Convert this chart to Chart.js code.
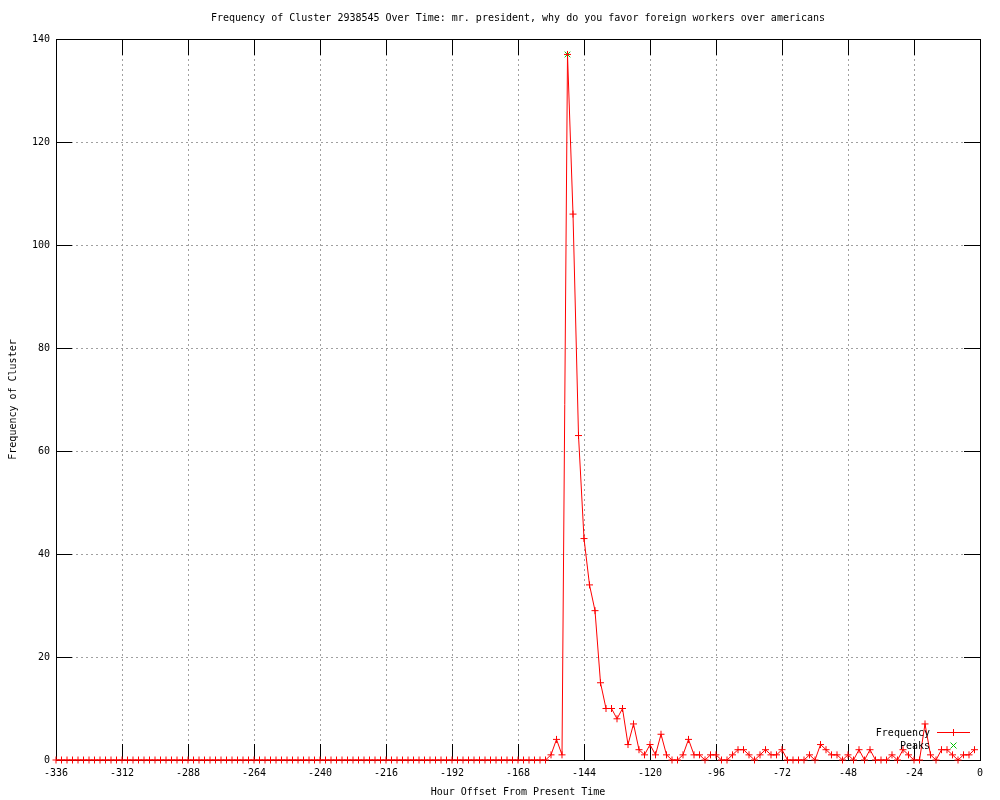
<!DOCTYPE html>
<html>
<head>
<meta charset="utf-8">
<title>Frequency of Cluster 2938545</title>
<script src="https://cdn.jsdelivr.net/npm/chart.js@4/dist/chart.umd.min.js"></script>
<style>
  html, body { margin: 0; padding: 0; background: #fff; }
  #wrap { width: 1000px; height: 800px; }
</style>
</head>
<body>
<div id="wrap"><canvas id="freqChart" width="1000" height="800"></canvas></div>
<script>
// hour offsets, one sample every 2 hours
var hours = [
  -336, -334, -332, -330, -328, -326, -324, -322, -320, -318, -316, -314,
  -312, -310, -308, -306, -304, -302, -300, -298, -296, -294, -292, -290,
  -288, -286, -284, -282, -280, -278, -276, -274, -272, -270, -268, -266,
  -264, -262, -260, -258, -256, -254, -252, -250, -248, -246, -244, -242,
  -240, -238, -236, -234, -232, -230, -228, -226, -224, -222, -220, -218,
  -216, -214, -212, -210, -208, -206, -204, -202, -200, -198, -196, -194,
  -192, -190, -188, -186, -184, -182, -180, -178, -176, -174, -172, -170,
  -168, -166, -164, -162, -160, -158, -156, -154, -152, -150, -148, -146,
  -144, -142, -140, -138, -136, -134, -132, -130, -128, -126, -124, -122,
  -120, -118, -116, -114, -112, -110, -108, -106, -104, -102, -100, -98,
  -96, -94, -92, -90, -88, -86, -84, -82, -80, -78, -76, -74,
  -72, -70, -68, -66, -64, -62, -60, -58, -56, -54, -52, -50,
  -48, -46, -44, -42, -40, -38, -36, -34, -32, -30, -28, -26,
  -24, -22, -20, -18, -16, -14, -12, -10, -8, -6, -4, -2
];
var frequency = [
  0, 0, 0, 0, 0, 0, 0, 0, 0, 0, 0, 0,
  0, 0, 0, 0, 0, 0, 0, 0, 0, 0, 0, 0,
  0, 0, 0, 0, 0, 0, 0, 0, 0, 0, 0, 0,
  0, 0, 0, 0, 0, 0, 0, 0, 0, 0, 0, 0,
  0, 0, 0, 0, 0, 0, 0, 0, 0, 0, 0, 0,
  0, 0, 0, 0, 0, 0, 0, 0, 0, 0, 0, 0,
  0, 0, 0, 0, 0, 0, 0, 0, 0, 0, 0, 0,
  0, 0, 0, 0, 0, 0, 1, 4, 1, 137, 106, 63,
  43, 34, 29, 15, 10, 10, 8, 10, 3, 7, 2, 1,
  3, 1, 5, 1, 0, 0, 1, 4, 1, 1, 0, 1,
  1, 0, 0, 1, 2, 2, 1, 0, 1, 2, 1, 1,
  2, 0, 0, 0, 0, 1, 0, 3, 2, 1, 1, 0,
  1, 0, 2, 0, 2, 0, 0, 0, 1, 0, 2, 1,
  0, 0, 7, 1, 0, 2, 2, 1, 0, 1, 1, 2
];
var peakHours = [-150];
var peakValues = [137];

var xTicks = [-336, -312, -288, -264, -240, -216, -192, -168, -144, -120, -96, -72, -48, -24, 0];
var yTicks = [0, 20, 40, 60, 80, 100, 120, 140];

var chartTitle = 'Frequency of Cluster 2938545 Over Time: mr. president, why do you favor foreign workers over americans';
var xTitle = 'Hour Offset From Present Time';
var yTitle = 'Frequency of Cluster';

var monoFont = '"DejaVu Sans Mono", "Liberation Mono", monospace';

var freqPoints = [];
for (var i = 0; i < hours.length; i++) {
    freqPoints.push({x: hours[i], y: frequency[i]});
}
var peakPoints = [];
for (var j = 0; j < peakHours.length; j++) {
    peakPoints.push({x: peakHours[j], y: peakValues[j]});
}

// gnuplot style frame: border, inward ticks on all sides, title, key inside bottom right
var gnuplotFrame = {
    id: 'gnuplotFrame',
    beforeDatasetsDraw: function (chart) {
        var ctx = chart.ctx;
        var a = chart.chartArea;
        var xs = chart.scales.x, ys = chart.scales.y;
        var ticLen = 16;
        ctx.save();
        ctx.strokeStyle = '#000';
        ctx.lineWidth = 1;
        ctx.beginPath();
        xTicks.forEach(function (v) {
            var px = Math.round(xs.getPixelForValue(v)) + 0.5;
            ctx.moveTo(px, a.bottom);
            ctx.lineTo(px, a.bottom - ticLen);
            ctx.moveTo(px, a.top);
            ctx.lineTo(px, a.top + ticLen);
        });
        yTicks.forEach(function (v) {
            var py = Math.round(ys.getPixelForValue(v)) + 0.5;
            ctx.moveTo(a.left, py);
            ctx.lineTo(a.left + ticLen, py);
            ctx.moveTo(a.right, py);
            ctx.lineTo(a.right - ticLen, py);
        });
        ctx.stroke();
        ctx.strokeRect(Math.round(a.left) + 0.5, Math.round(a.top) + 0.5,
                       Math.round(a.right - a.left), Math.round(a.bottom - a.top));
        ctx.fillStyle = '#000';
        ctx.font = '10px ' + monoFont;
        ctx.textAlign = 'center';
        ctx.textBaseline = 'middle';
        ctx.fillText(chartTitle, (a.left + a.right) / 2, 18);
        ctx.restore();
    },
    afterDatasetsDraw: function (chart) {
        var ctx = chart.ctx;
        var sets = chart.data.datasets;
        ctx.save();
        ctx.font = '10px ' + monoFont;
        ctx.fillStyle = '#000';
        ctx.textAlign = 'right';
        ctx.textBaseline = 'middle';
        ctx.fillText(sets[0].label, 930, 733);
        ctx.fillText(sets[1].label, 930, 746);
        ctx.lineWidth = 1;
        ctx.strokeStyle = sets[0].borderColor;
        ctx.beginPath();
        ctx.moveTo(937, 732.5);
        ctx.lineTo(970, 732.5);
        ctx.moveTo(953.5, 729);
        ctx.lineTo(953.5, 736);
        ctx.stroke();
        ctx.strokeStyle = sets[1].pointBorderColor;
        ctx.beginPath();
        ctx.moveTo(950.5, 742.5);
        ctx.lineTo(956.5, 748.5);
        ctx.moveTo(956.5, 742.5);
        ctx.lineTo(950.5, 748.5);
        ctx.stroke();
        ctx.restore();
    }
};

var ctx = document.getElementById('freqChart');
var freqChart = new Chart(ctx, {
    type: 'line',
    data: {
        datasets: [
            {
                label: 'Frequency',
                data: freqPoints,
                borderColor: '#ff0000',
                borderWidth: 1,
                pointStyle: 'cross',
                pointRadius: 3.5,
                pointBorderColor: '#ff0000',
                pointBorderWidth: 1,
                pointBackgroundColor: '#ff0000',
                tension: 0,
                fill: false,
                clip: false
            },
            {
                label: 'Peaks',
                data: peakPoints,
                showLine: false,
                pointStyle: 'crossRot',
                pointRadius: 4,
                pointBorderColor: '#00c000',
                pointBorderWidth: 1,
                borderColor: '#00c000',
                clip: false
            }
        ]
    },
    options: {
        responsive: false,
        animation: false,
        events: [],
        layout: { padding: { top: 39, right: 20, left: 0, bottom: 0 } },
        plugins: {
            legend: { display: false },
            title: { display: false },
            tooltip: { enabled: false }
        },
        scales: {
            x: {
                type: 'linear',
                min: -336,
                max: 0,
                afterFit: function (scale) { scale.height = 40; },
                afterBuildTicks: function (scale) {
                    scale.ticks = xTicks.map(function (v) { return {value: v}; });
                },
                ticks: {
                    color: '#000',
                    padding: 7,
                    maxRotation: 0,
                    autoSkip: false,
                    font: { family: monoFont, size: 10 }
                },
                grid: { color: '#a0a0a0', lineWidth: 1, drawTicks: false },
                border: { display: false, dash: [2, 3] },
                title: {
                    display: true,
                    text: xTitle,
                    color: '#000',
                    font: { family: monoFont, size: 10 },
                    padding: { top: 0, bottom: 2 }
                }
            },
            y: {
                type: 'linear',
                min: 0,
                max: 140,
                afterFit: function (scale) { scale.width = 56; },
                afterBuildTicks: function (scale) {
                    scale.ticks = yTicks.map(function (v) { return {value: v}; });
                },
                ticks: {
                    color: '#000',
                    padding: 6,
                    font: { family: monoFont, size: 10 }
                },
                grid: { color: '#a0a0a0', lineWidth: 1, drawTicks: false },
                border: { display: false, dash: [2, 3] },
                title: {
                    display: true,
                    text: yTitle,
                    color: '#000',
                    font: { family: monoFont, size: 10 },
                    padding: { top: 7, bottom: 0 }
                }
            }
        }
    },
    plugins: [gnuplotFrame]
});
</script>
</body>
</html>
